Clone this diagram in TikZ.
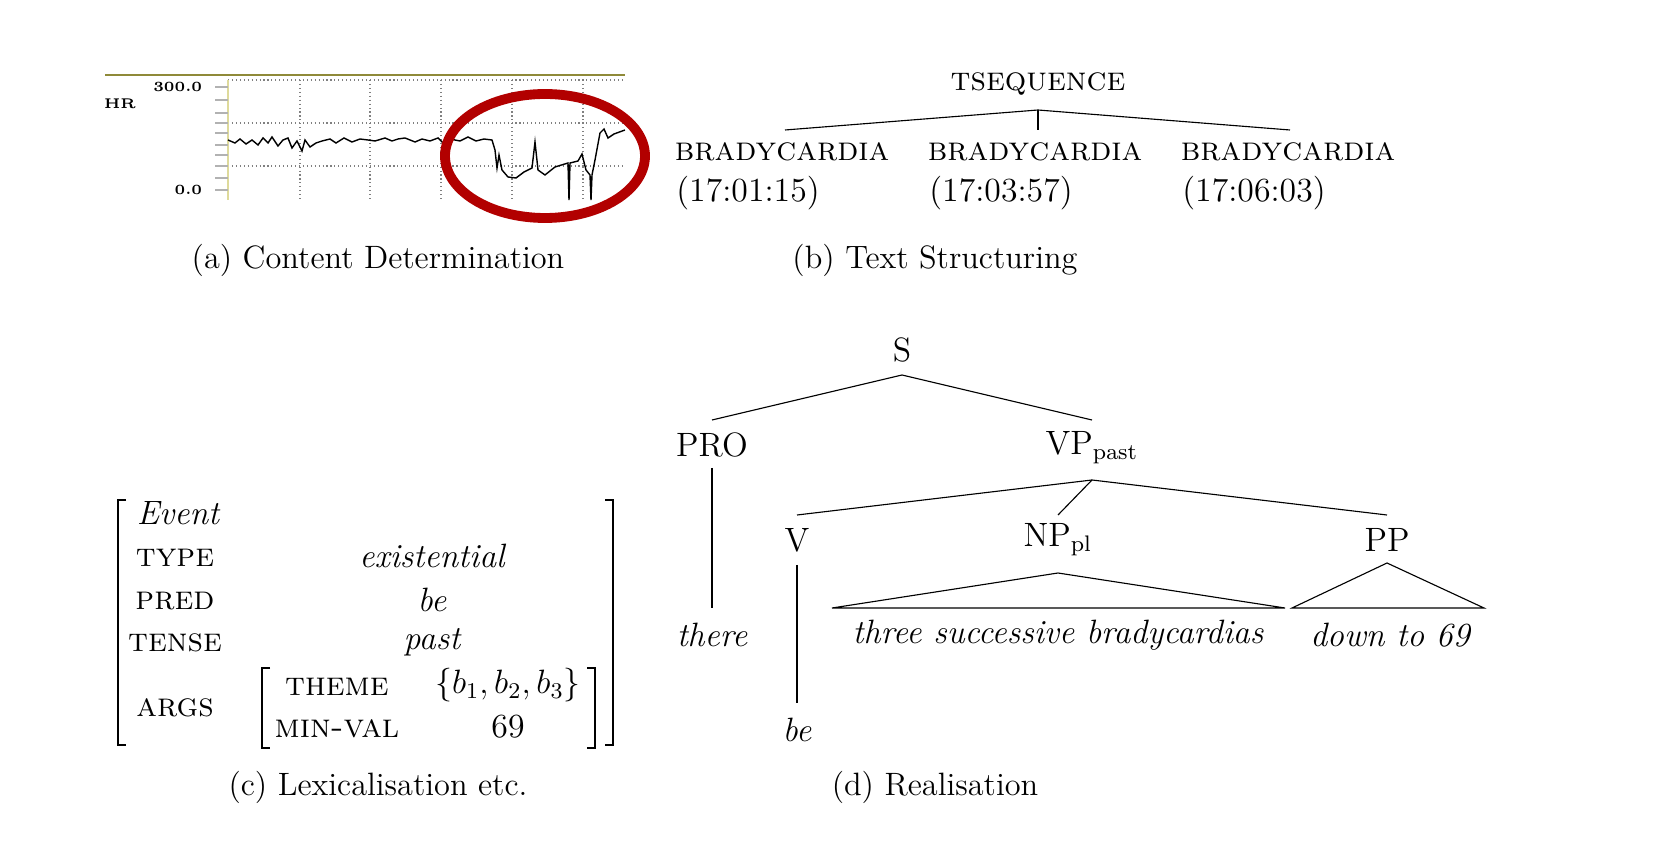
\documentclass[tikz,border=0pt]{standalone}
\usetikzlibrary{positioning}
\tikzset{
	lab/.style={font=\large, inner sep=1pt},
	captxt/.style={font=\fontsize{11.5}{13}\selectfont},
	feat/.style={font=\scshape, inner sep=1pt},
	grid/.style={gray, densely dotted, line width=0.4pt},
}
\begin{document}
\begin{tikzpicture}[x=0.0125cm,y=-0.0125cm]
	\useasboundingbox (0,0) rectangle (1654,868);
	
	% (a) heart rate chart
	\draw[color=olive!60!gray, thick] (105,75) -- (625,75);
	\foreach \gx in {300,370,441,512,583} \draw[grid] (\gx,80) -- (\gx,200);
	\foreach \gy in {80,123,166} \draw[grid] (228,\gy) -- (625,\gy);
	\draw[color=olive!30] (228,80) -- (228,200);
	\foreach \ty in {87,100,113,123,133,145,155,166,178,190} \draw[gray!60] (215,\ty) -- (228,\ty);
	\node[font=\tiny\bfseries, anchor=east] (top) at (212,87) {300.0};
	\node[font=\tiny\bfseries, anchor=east] (bot) at (212,190) {0.0};
	\node[font=\tiny\bfseries] (hr) at (120,104) {HR};
	\draw[line width=0.5pt] (228,140) -- (235,143) -- (240,139) -- (246,144) -- (252,140) -- (258,145) -- (263,138) -- (268,143) -- (272,137) -- (278,146) -- (283,140) -- (288,138) -- (292,148) -- (297,141) -- (302,151) -- (305,140) -- (310,147) -- (316,143) -- (322,141) -- (330,139) -- (336,143) -- (344,138) -- (352,142) -- (360,139) -- (368,140) -- (375,141) -- (385,138) -- (392,141) -- (398,139) -- (405,138) -- (415,142) -- (422,139) -- (430,141) -- (438,138) -- (443,143) -- (446,150) -- (450,139) -- (460,141) -- (468,137) -- (476,141) -- (484,139) -- (492,140) -- (495,150) -- (497,168) -- (499,155) -- (502,170) -- (508,177) -- (516,178) -- (524,172) -- (532,168) -- (535,142) -- (538,170) -- (545,175) -- (555,167) -- (568,163) -- (569,200) -- (570,163) -- (578,161) -- (582,154) -- (586,170) -- (590,175) -- (591,200) -- (592,175) -- (595,160) -- (600,133) -- (604,129) -- (608,138) -- (614,134) -- (625,130);
	\draw[color=red!70!black, line width=3.5pt] (545,156) ellipse (100 and 62);
	\node[captxt] (capa) at (378,260) {(a) Content Determination};
	
	% (b) text structuring
	\node[lab, font=\scshape\large] (ts) at (1038,84) {tsequence};
	\node[feat, font=\scshape\large] (b1) at (782,152) {bradycardia};
	\node[feat, font=\scshape\large] (b2) at (1035,152) {bradycardia};
	\node[feat, font=\scshape\large] (b3) at (1288,152) {bradycardia};
	\node[lab] (t1) at (748,193) {(17:01:15)};
	\node[lab] (t2) at (1001,193) {(17:03:57)};
	\node[lab] (t3) at (1254,193) {(17:06:03)};
	\coordinate (tsb) at (1038,110);
	\draw (tsb) -- (785,130);
	\draw (tsb) -- (1038,130);
	\draw (tsb) -- (1290,130);
	\node[captxt] (capb) at (935,260) {(b) Text Structuring};
	
	% (c) feature structure
	\draw[thick] (126,500) -- (118,500) -- (118,745) -- (126,745);
	\draw[thick] (605,500) -- (613,500) -- (613,745) -- (605,745);
	\draw[thick] (270,668) -- (262,668) -- (262,748) -- (270,748);
	\draw[thick] (587,668) -- (595,668) -- (595,748) -- (587,748);
	\node[lab, font=\large\itshape] (ev) at (178,513) {Event};
	\node[feat, font=\scshape\large] (ftype) at (175,558) {type};
	\node[feat, font=\scshape\large] (fpred) at (175,601) {pred};
	\node[feat, font=\scshape\large] (ftense) at (175,643) {tense};
	\node[feat, font=\scshape\large] (fargs) at (175,708) {args};
	\node[lab, font=\large\itshape] (vtype) at (432,556) {existential};
	\node[lab, font=\large\itshape] (vpred) at (432,600) {be};
	\node[lab, font=\large\itshape] (vtense) at (432,642) {past};
	\node[feat, font=\scshape\large] (ftheme) at (337,687) {theme};
	\node[feat, font=\scshape\large] (fmin) at (337,729) {min-val};
	\node[lab] (vtheme) at (508,685) {$\{b_1,b_2,b_3\}$};
	\node[lab] (vmin) at (508,727) {69};
	\node[captxt] (capc) at (378,787) {(c) Lexicalisation etc.};
	
	% (d) realisation
	\node[lab] (s) at (902,350) {S};
	\node[lab] (pro) at (712,445) {PRO};
	\node[lab] (vp) at (1092,448) {VP$_{\mathrm{past}}$};
	\node[lab] (v) at (797,540) {V};
	\node[lab] (np) at (1058,540) {NP$_{\mathrm{pl}}$};
	\node[lab] (pp) at (1387,540) {PP};
	\node[lab, font=\large\itshape] (there) at (712,635) {there};
	\node[lab, font=\large\itshape] (be) at (797,730) {be};
	\node[lab, font=\large\itshape] (three) at (1058,635) {three successive bradycardias};
	\node[lab, font=\large\itshape] (down) at (1390,635) {down to 69};
	\coordinate (sb) at (902,375);
	\coordinate (vpb) at (1092,480);
	\draw (sb) -- (712,420);
	\draw (sb) -- (1092,420);
	\draw (712,468) -- (712,608);
	\draw (vpb) -- (797,515);
	\draw (vpb) -- (1058,515);
	\draw (vpb) -- (1387,515);
	\draw (797,565) -- (797,703);
	\draw (1058,573) -- (832,608) -- (1285,608) -- cycle;
	\draw (1387,563) -- (1292,608) -- (1484,608) -- cycle;
	\node[captxt] (capd) at (935,787) {(d) Realisation};
\end{tikzpicture}
\end{document}
